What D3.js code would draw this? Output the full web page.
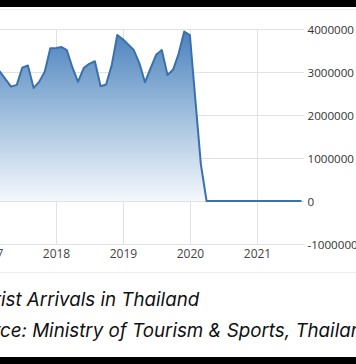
<!DOCTYPE html>
<html><head><meta charset="utf-8">
<script src="https://cdn.jsdelivr.net/npm/d3@7"></script>
<style>
html,body{margin:0;padding:0;background:#fff;overflow:hidden;}
svg{display:block;}
</style></head>
<body>
<svg id="c" width="356" height="364"></svg>
<script>
const months = [
 "2017-02","2017-03","2017-04","2017-05","2017-06","2017-07","2017-08","2017-09","2017-10","2017-11","2017-12",
 "2018-01","2018-02","2018-03","2018-04","2018-05","2018-06","2018-07","2018-08","2018-09","2018-10","2018-11","2018-12",
 "2019-01","2019-02","2019-03","2019-04","2019-05","2019-06","2019-07","2019-08","2019-09","2019-10","2019-11","2019-12",
 "2020-01","2020-02","2020-03","2020-04","2020-05","2020-06","2020-07","2020-08","2020-09","2020-10","2020-11","2020-12",
 "2021-01","2021-02","2021-03","2021-04","2021-05","2021-06","2021-07","2021-08","2021-09"];
const arrivals = [
 3100000,3010000,2830000,2660000,2700000,3100000,3150000,2630000,2770000,3010000,3550000,
 3560000,3580000,3510000,3100000,2770000,3090000,3190000,3250000,2670000,2710000,3160000,3860000,
 3760000,3630000,3510000,3200000,2760000,3090000,3400000,3510000,2930000,3050000,3430000,3940000,
 3860000,2300000,850000,0,0,0,0,0,0,0,0,0,
 0,0,0,0,0,0,0,0,0];
const yearTicks = ["2017","2018","2019","2020","2021"];
const yTicks = [-1000000,0,1000000,2000000,3000000,4000000];
const title = "Tourist Arrivals in Thailand";
const titleCut = "Tour";
const source = "Source: Ministry of Tourism & Sports, Thailand";
const sourceCut = "Sour";

const parse = d3.timeParse("%Y-%m");
const data = months.map((m,i)=>({date:parse(m), value:arrivals[i]}));
const svg = d3.select("#c");

const x = d3.scaleTime().domain([parse("2018-01"), parse("2021-01")]).range([56,257]);
const y = d3.scaleLinear().domain([-1000000,4000000]).range([244,29]);

// frame lines
svg.append("rect").attr("x",0).attr("y",0).attr("width",356).attr("height",7).attr("fill","#000");
svg.append("rect").attr("x",0).attr("y",357).attr("width",356).attr("height",7).attr("fill","#000");
svg.append("line").attr("x1",0).attr("x2",356).attr("y1",9.5).attr("y2",9.5).attr("stroke","#eeeeee");
svg.append("line").attr("x1",0).attr("x2",356).attr("y1",272.5).attr("y2",272.5).attr("stroke","#ececec");

// grid
const grid = svg.append("g");
grid.selectAll("line.h").data(yTicks).join("line")
  .attr("x1",0).attr("x2",304)
  .attr("y1",d=>Math.round(y(d))+0.5).attr("y2",d=>Math.round(y(d))+0.5)
  .attr("stroke","#e2e2e2");
grid.selectAll("line.v").data(yearTicks.map(t=>d3.timeParse("%Y")(t))).join("line")
  .attr("x1",d=>Math.round(x(d))+0.5).attr("x2",d=>Math.round(x(d))+0.5)
  .attr("y1",y(4000000)).attr("y2",y(-1000000))
  .attr("stroke","#e2e2e2");

// gradient
const defs = svg.append("defs");
const g = defs.append("linearGradient").attr("id","fillg")
  .attr("gradientUnits","userSpaceOnUse")
  .attr("x1",0).attr("x2",0).attr("y1",y(4000000)).attr("y2",y(0));
g.append("stop").attr("offset","0%").attr("stop-color","#4a80bd");
g.append("stop").attr("offset","50%").attr("stop-color","#a0bfdd");
g.append("stop").attr("offset","100%").attr("stop-color","#f4f8fc");

const area = d3.area().x(d=>x(d.date)).y0(y(0)).y1(d=>y(d.value));
const line = d3.line().x(d=>x(d.date)).y(d=>y(d.value));
svg.append("path").datum(data).attr("d",area).attr("fill","url(#fillg)");
svg.append("path").datum(data).attr("d",line).attr("fill","none")
  .attr("stroke","#3b71ab").attr("stroke-width",2).attr("stroke-linejoin","round");

// axes
const yAxis = d3.axisRight(y).tickValues(yTicks).tickSize(0).tickPadding(0).tickFormat(d=>String(d));
const ya = svg.append("g").attr("transform","translate(307.5,0)").call(yAxis);
ya.select(".domain").remove();
ya.selectAll("text").attr("font-family","'Open Sans', sans-serif").attr("font-size","11.6px").attr("fill","#333").attr("dy","0.35em");

const xAxis = d3.axisBottom(x).tickValues(yearTicks.map(t=>d3.timeParse("%Y")(t))).tickSize(0).tickPadding(0).tickFormat(d3.timeFormat("%Y"));
const xa = svg.append("g").attr("transform","translate(0,249)").call(xAxis);
xa.select(".domain").remove();
xa.selectAll("text").attr("font-family","'Open Sans', sans-serif").attr("font-size","12px").attr("fill","#444").attr("dy","0.71em");

// captions
function caption(txt, cut, startX, baseY){
  const t = svg.append("text").attr("y",baseY)
    .attr("font-family","Inter, 'Noto Sans', sans-serif").attr("font-style","italic")
    .attr("font-size","18.75px").attr("fill","#111").text(txt);
  const w = t.node().getSubStringLength(0, cut.length);
  t.attr("x", startX - w);
}
caption(title, titleCut, 1, 306);
caption(source, sourceCut, 0, 337);
</script>
</body></html>
